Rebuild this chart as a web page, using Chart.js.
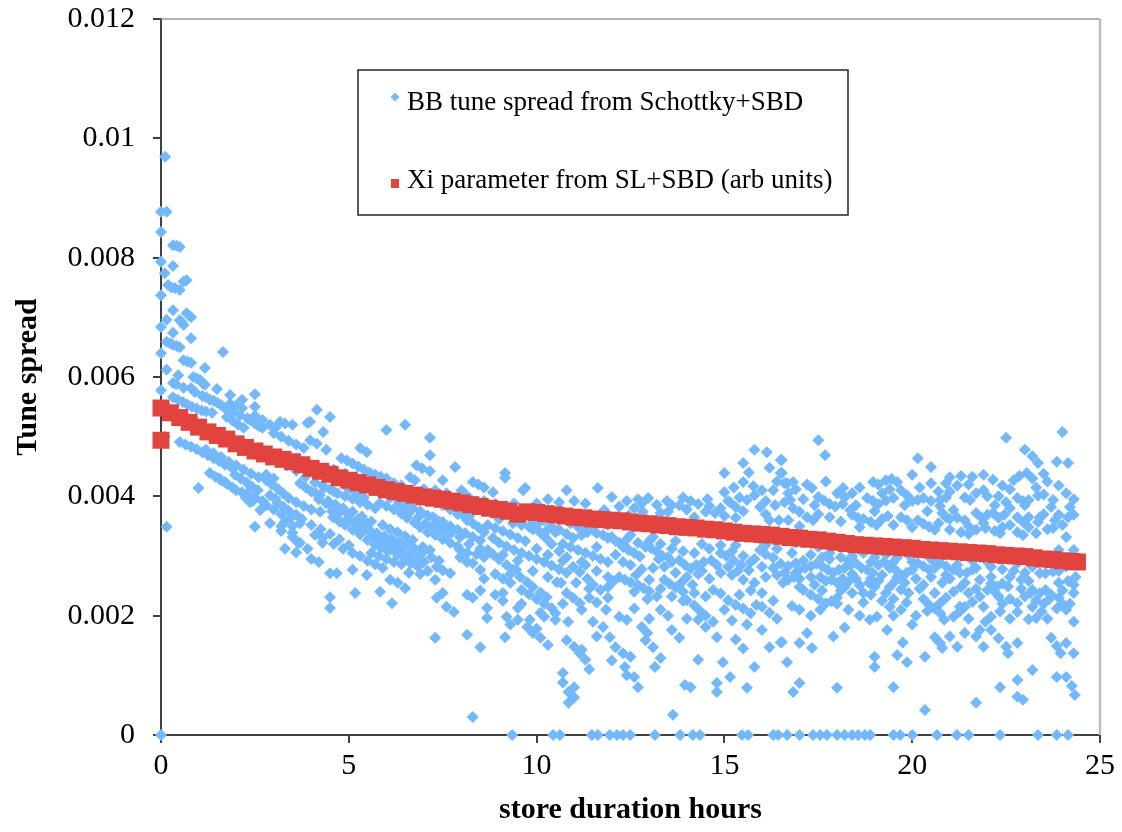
<!DOCTYPE html>
<html>
<head>
<meta charset="utf-8">
<script src="https://cdn.jsdelivr.net/npm/chart.js@4/dist/chart.umd.min.js"></script>
<style>
  html, body { margin: 0; padding: 0; background: #ffffff; }
  #wrap { width: 1122px; height: 832px; }
</style>
</head>
<body>
<div id="wrap"><canvas id="c" width="1122" height="832"></canvas></div>
<script>
// ---------- DATA ----------
const seriesNames = ['BB tune spread from Schottky+SBD', 'Xi parameter from SL+SBD (arb units)'];
const xTickLabels = ['0', '5', '10', '15', '20', '25'];
const yTickLabels = ['0', '0.002', '0.004', '0.006', '0.008', '0.01', '0.012'];
const axisTitles = ['store duration hours', 'Tune spread'];

// Xi parameter (red squares)
const xiHours = [0, 0, 0.25, 0.5, 0.75, 1, 1.25, 1.5, 1.75, 2, 2.25, 2.5, 2.75, 3, 3.25, 3.5, 3.75, 4, 4.25, 4.5, 4.75,
  5, 5.25, 5.5, 5.75, 6, 6.25, 6.5, 6.75, 7, 7.25, 7.5, 7.75, 8, 8.25, 8.5, 8.75, 9, 9.25, 9.5, 9.75,
  10, 10.25, 10.5, 10.75, 11, 11.25, 11.5, 11.75, 12, 12.25, 12.5, 12.75, 13, 13.25, 13.5, 13.75, 14, 14.25, 14.5, 14.75,
  15, 15.25, 15.5, 15.75, 16, 16.25, 16.5, 16.75, 17, 17.25, 17.5, 17.75, 18, 18.25, 18.5, 18.75, 19, 19.25, 19.5, 19.75,
  20, 20.25, 20.5, 20.75, 21, 21.25, 21.5, 21.75, 22, 22.25, 22.5, 22.75, 23, 23.25, 23.5, 23.75, 24, 24.25, 24.4];
const xiValues = [0.00548, 0.00494, 0.0054, 0.00532, 0.00524, 0.00516, 0.00508, 0.00502, 0.00496, 0.00488, 0.00482, 0.00476, 0.00471, 0.00466, 0.00462, 0.00458, 0.00453, 0.00447, 0.00442, 0.00437, 0.00431,
  0.00427, 0.00423, 0.00419, 0.00415, 0.00411, 0.00408, 0.00405, 0.00402, 0.00399, 0.00397, 0.00395, 0.00392, 0.00389, 0.00386, 0.00383, 0.0038, 0.00378, 0.00375, 0.0037, 0.00374,
  0.00373, 0.00371, 0.00369, 0.00367, 0.00365, 0.00364, 0.00362, 0.00361, 0.0036, 0.00359, 0.00357, 0.00355, 0.00354, 0.00352, 0.00351, 0.00349, 0.00348, 0.00347, 0.00345, 0.00344,
  0.00342, 0.0034, 0.00338, 0.00337, 0.00336, 0.00335, 0.00333, 0.00331, 0.0033, 0.00328, 0.00327, 0.00325, 0.00323, 0.00321, 0.00319, 0.00318, 0.00317, 0.00316, 0.00315, 0.00314,
  0.00313, 0.00311, 0.0031, 0.00309, 0.00308, 0.00307, 0.00306, 0.00305, 0.00304, 0.00302, 0.00301, 0.003, 0.00299, 0.00297, 0.00295, 0.00294, 0.00292, 0.00291, 0.0029];

// BB tune spread (blue diamonds), [hours, spread]
const bbHours0to4 = [[0.11,0.00969],[0,0.00877],[0.15,0.00877],[0,0.00843],[0.32,0.00821],[0.42,0.0082],[0.5,0.00818],[0,0.00793],[0.32,0.00786],[0.1,0.00774],[0.19,0.00754],[0.28,0.0075],[0.37,0.00749],[0.5,0.00746],[0.6,0.0076],[0.68,0.00762],[0,0.00737],[0.32,0.00712],[0.68,0.00707],[0.75,0.00703],[0.8,0.007],[0.15,0.00696],[0,0.00684],[0.5,0.00695],[0.55,0.00692],[0.6,0.00687],[0.32,0.00674],[0.8,0.00665],[0.15,0.00659],[0.25,0.00656],[0.32,0.00654],[0.42,0.00652],[0.5,0.0065],[0,0.0064],[1.65,0.00642],[0.6,0.00628],[0.7,0.00626],[0.8,0.00624],[1.17,0.00615],[0.15,0.00612],[0.46,0.00603],[0.86,0.006],[0.95,0.00598],[1.04,0.00595],[1.1,0.0059],[1.17,0.00587],[0.32,0.0059],[1.49,0.0058],[1.84,0.0057],[2.5,0.00571],[0,0.00578],[0.8,0.00581],[0.32,0.00566],[0.45,0.00562],[0.58,0.00558],[0.7,0.00554],[0.82,0.0055],[0.95,0.00547],[1.08,0.00544],[1.2,0.00542],[1.36,0.0054],[1.2,0.00566],[1.4,0.0056],[1.6,0.00553],[1.84,0.00555],[2.0,0.00552],[2.16,0.00548],[2.16,0.00562],[2.5,0.0055],[1.75,0.00533],[1.9,0.00527],[2.05,0.0052],[2.2,0.00515],[2.37,0.00528],[2.5,0.00522],[2.6,0.00518],[2.7,0.00515],[3.17,0.00525],[3.3,0.00522],[3.5,0.0052],[3.9,0.00523],[3.0,0.00506],[3.2,0.005],[3.4,0.00493],[3.6,0.00487],[3.8,0.00481],[0.1,0.005],[0.5,0.00491],[0.65,0.00487],[0.8,0.00483],[0.95,0.00479],[1.1,0.00474],[1.25,0.00469],[1.4,0.00464],[1.55,0.00459],[1.7,0.00453],[1.9,0.00447],[1.3,0.00439],[1.45,0.00433],[1.6,0.00427],[1.75,0.00421],[1.9,0.00415],[2.0,0.0041],[2.15,0.00407],[1.0,0.00414],[1.97,0.00436],[2.12,0.0043],[2.28,0.00423],[2.43,0.00416],[2.58,0.0041],[2.8,0.00427],[2.95,0.0042],[3.1,0.00413],[3.25,0.00405],[3.4,0.00397],[3.6,0.0039],[2.37,0.0039],[2.64,0.00377],[2.5,0.00349],[0.15,0.00349],[3.1,0.00389],[3.25,0.00383],[3.4,0.00376],[3.6,0.00369],[3.5,0.00339],[3.1,0.0046],[3.35,0.00452],[3.6,0.00443],[3.85,0.00433],[2.8,0.00385],[3.0,0.00378],[3.2,0.0037],[3.45,0.00364],[3.65,0.00322],[3.5,0.00332],
  [0.4,0.00588],[0.6,0.00582],[0.9,0.00575],[1.1,0.00568],[1.3,0.00562],[1.5,0.00557],[1.7,0.00548],[1.9,0.00542],[2.1,0.00536],[2.3,0.00531],[2.5,0.00535],[2.7,0.00528],[2.9,0.0052],[3.05,0.00515],[1.2,0.00478],[1.4,0.00472],[1.6,0.00466],[1.8,0.00458],[2.0,0.00452],[2.2,0.00445],[2.4,0.00438],[2.6,0.00432],[2.8,0.00436],[3.0,0.0043],[1.55,0.0043],[1.7,0.00424],[2.3,0.00405],[2.5,0.00398],[2.7,0.00392],[2.9,0.00402],[3.05,0.00396],[2.25,0.00398],[2.45,0.00392],[3.3,0.00358],[3.5,0.0035],[3.2,0.0035],[2.9,0.00355],[3.2,0.00342],[3.3,0.00312],[3.6,0.00306],[3.9,0.00312],[4.0,0.00295],[4.2,0.0029]];

const bbHours4to8 = [[4.1,0.00423],[4.35,0.00415],[4.6,0.00408],[4.9,0.004],[3.8,0.00384],[4.0,0.00378],[4.24,0.00374],[3.75,0.00362],[4.0,0.00352],[4.25,0.00345],[4.5,0.00337],[4.75,0.00328],[5.0,0.00318],[4.15,0.00545],[4.5,0.00533],[3.97,0.00525],[4.32,0.00508],[6.0,0.00511],[6.5,0.0052],[7.16,0.00498],[3.97,0.00494],[4.15,0.00488],[4.4,0.00478],[5.3,0.00481],[5.48,0.00474],[7.16,0.00469],[4.8,0.00464],[4.95,0.0046],[5.1,0.00455],[5.25,0.0045],[5.4,0.00445],[5.55,0.0044],[5.7,0.00436],[5.85,0.00433],[6.0,0.0043],[6.8,0.00452],[6.95,0.00447],[7.16,0.00442],[7.83,0.00449],[6.63,0.00432],[6.76,0.00427],[7.5,0.00427],[8.0,0.0041],[3.7,0.00422],[3.85,0.00415],[4.0,0.00408],[4.12,0.00405],[4.23,0.00402],[5.0,0.00412],[5.2,0.00405],[5.4,0.00398],[4.58,0.00382],[4.8,0.00376],[5.0,0.0037],[5.25,0.00362],[5.48,0.00355],[4.58,0.00365],[4.75,0.00358],[4.9,0.00352],[5.1,0.00344],[5.3,0.00336],[5.5,0.00327],[5.7,0.00319],[5.85,0.00314],[6.0,0.0031],[5.3,0.00352],[5.45,0.00345],[5.6,0.00338],[5.8,0.0033],[6.0,0.00322],[6.2,0.00314],[6.4,0.00307],[5.83,0.00389],[6.0,0.00384],[6.2,0.00378],[6.4,0.00371],[6.55,0.00364],[6.75,0.00356],[6.9,0.00348],[7.1,0.0034],[6.3,0.00394],[6.45,0.0039],[6.63,0.00385],[7.24,0.00365],[7.4,0.00358],[7.55,0.0035],[7.75,0.0034],[7.96,0.00332],[6.1,0.0031],[6.3,0.00302],[6.5,0.00295],[6.65,0.00288],[6.84,0.00282],[6.97,0.00315],[7.16,0.0031],[3.7,0.00355],[3.7,0.00322],[4.3,0.00322],[4.5,0.00271],[4.68,0.00271],[5.1,0.00277],[5.48,0.00268],[6.1,0.0026],[6.3,0.00255],[6.5,0.00246],[7.34,0.00282],[7.5,0.00276],[7.7,0.00271],[7.96,0.00298],[8.15,0.0029],[4.5,0.00231],[4.5,0.00213],[5.17,0.00238],[5.83,0.0024],[6.15,0.00221],[7.34,0.0023],[7.5,0.00238],[7.6,0.00215],[7.8,0.00206],[7.3,0.00163],
  [4.3,0.00418],[4.5,0.00412],[4.7,0.00405],[5.1,0.00396],[5.3,0.0039],[5.5,0.00386],[5.7,0.0038],[4.45,0.00392],[4.65,0.00386],[4.85,0.0038],[5.1,0.00374],[5.35,0.00366],[5.6,0.00358],[5.9,0.00352],[6.1,0.00345],[6.3,0.0034],[6.5,0.00333],[6.7,0.00327],[5.2,0.00348],[5.65,0.00333],[5.9,0.00325],[6.1,0.00318],[6.6,0.00302],[6.8,0.00296],[7.0,0.0029],[7.2,0.00298],[7.4,0.00292],[6.7,0.0038],[6.9,0.00375],[7.1,0.00368],[7.3,0.00362],[7.5,0.00357],[7.7,0.0035],[7.9,0.00344],[8.1,0.00338],[8.3,0.00332],[8.5,0.00326],[7.3,0.00335],[7.5,0.00328],[7.7,0.00322],[7.9,0.00316],[8.4,0.00303],[8.6,0.00298],[5.6,0.00305],[5.8,0.003],[6.0,0.00295],[6.2,0.0029],[6.4,0.00286],[4.6,0.00445],[4.9,0.00438],[5.2,0.00432],[5.6,0.00425],[5.9,0.00418],[6.2,0.00422],[6.4,0.00418],[7.0,0.00412],[7.3,0.0041],[7.6,0.00405],[8.2,0.00398],
  [4.2,0.00395],[4.4,0.00388],[4.55,0.00375],[4.7,0.0037],[4.95,0.00362],[5.15,0.00356],[5.4,0.0035],[5.55,0.00344],[5.75,0.00338],[5.95,0.00333],[6.15,0.00328],[6.35,0.00322],[6.55,0.00318],[6.75,0.00312],[6.95,0.00305],[6.1,0.00398],[6.3,0.00385],[6.5,0.0038],[6.6,0.00372],[6.85,0.00365],[7.05,0.00355],[7.25,0.0035],[7.45,0.00345],[7.65,0.00338],[7.1,0.00395],[7.3,0.0039],[7.5,0.00385],[7.7,0.00378],[7.9,0.0037],[8.1,0.00365],[4.1,0.00335],[4.3,0.0033],[4.6,0.0032],[4.85,0.00312],[5.1,0.00305],[5.3,0.003],[5.5,0.00292],[5.7,0.00286],[5.9,0.0028],[6.6,0.00272],[6.9,0.0027],[7.1,0.00275],[7.3,0.0026]];

const bbHours8to12 = [[8.3,0.00424],[8.45,0.0042],[8.6,0.00415],[8.84,0.00407],[9.16,0.00439],[9.16,0.00431],[9.64,0.0041],[9.7,0.00414],[10.8,0.0041],[11.63,0.00414],[12.0,0.00399],[11.8,0.00377],[8.04,0.00407],[8.15,0.0036],[8.3,0.00355],[8.45,0.00348],[8.6,0.0034],[8.84,0.0033],[9.37,0.00355],[9.6,0.00352],[9.8,0.00349],[10.2,0.0036],[10.4,0.00349],[10.6,0.00344],[10.8,0.00337],[10.97,0.0033],[11.5,0.00344],[11.77,0.00335],[12.2,0.00322],[12.4,0.00313],[7.96,0.0031],[8.15,0.00305],[8.7,0.0031],[8.85,0.00302],[9.0,0.00294],[9.2,0.00285],[9.37,0.00277],[9.56,0.00265],[9.75,0.00256],[9.9,0.00248],[10.1,0.00239],[10.27,0.00231],[10.1,0.00339],[10.25,0.0033],[10.4,0.0032],[10.6,0.00308],[10.8,0.00298],[10.97,0.00282],[11.15,0.00273],[11.35,0.00262],[11.5,0.00252],[11.7,0.00243],[8.3,0.00288],[8.5,0.00277],[9.45,0.00277],[10.54,0.00256],[10.8,0.00238],[10.97,0.0023],[11.15,0.00221],[8.15,0.00235],[8.3,0.0023],[8.9,0.00235],[9.1,0.00238],[8.68,0.00213],[8.68,0.00196],[9.5,0.00213],[9.5,0.00193],[9.82,0.00193],[10.0,0.00178],[10.1,0.00163],[10.3,0.00151],[10.5,0.00204],[10.5,0.00193],[10.84,0.0019],[8.15,0.00168],[8.5,0.00147],[9.16,0.00164],[9.75,0.00181],[9.9,0.00171],[10.8,0.00159],[11.0,0.00148],[11.15,0.00137],[11.3,0.00126],[11.2,0.00143],[11.77,0.00181],[11.95,0.00164],[12.1,0.00147],[10.7,0.00104],[10.7,0.00088],[10.85,0.00072],[11.0,0.00063],[10.85,0.00054],[8.3,0.0003],[9.9,0.00345],[10.05,0.00355],[11.2,0.00335],[11.35,0.0034],[12.0,0.00332],
  [8.6,0.00392],[8.9,0.00387],[9.2,0.00384],[8.0,0.00372],[8.2,0.00367],[8.7,0.00352],[8.9,0.00347],[9.1,0.00342],[9.3,0.00336],[9.5,0.0033],[9.7,0.00325],[9.0,0.00322],[9.2,0.00316],[9.4,0.0031],[9.6,0.00305],[9.8,0.003],[10.0,0.00295],[10.2,0.0029],[10.4,0.00284],[10.6,0.00278],[10.8,0.00272],[10.3,0.00345],[10.5,0.0034],[10.7,0.0032],[10.9,0.00315],[11.1,0.0031],[11.3,0.00305],[11.5,0.003],[11.7,0.00295],[11.9,0.0029],[11.1,0.00349],[11.3,0.00345],[11.6,0.00338],[11.9,0.0033],[12.1,0.00325],[9.1,0.00262],[9.3,0.00255],[9.6,0.00243],[9.8,0.00236],[10.0,0.00228],[10.2,0.0022],[10.4,0.00213],[11.3,0.00285],[11.6,0.00275],[11.9,0.00265],[12.05,0.00258],[11.4,0.0023],[11.6,0.00222],[11.85,0.0021],[9.2,0.00198],[9.3,0.00185],[10.2,0.00198],[11.5,0.0019],[11.6,0.00165],[12.0,0.00125],[11.4,0.0011],[11.0,0.0008],[9.4,0.00388],[10.0,0.00388],[10.3,0.00395],[10.6,0.0039],[11.0,0.00392],[11.3,0.00388],[12.2,0.00383],[12.4,0.00392],
  [8.4,0.00382],[8.8,0.00372],[9.0,0.00362],[9.6,0.00368],[9.9,0.0036],[10.4,0.00368],[10.9,0.00355],[11.5,0.00358],[11.9,0.00352],[8.2,0.0032],[8.5,0.00312],[9.1,0.00302],[9.5,0.00292],[10.0,0.00312],[10.3,0.00302],[10.7,0.00292],[11.2,0.0029],[11.6,0.00315],[12.1,0.00302],[8.6,0.00262],[8.9,0.0027],[9.3,0.0027],[9.9,0.00275],[10.3,0.00265],[10.65,0.00255],[11.05,0.00255],[11.4,0.00245],[11.9,0.00248],[8.5,0.00242],[9.1,0.00225],[9.6,0.0022],[10.1,0.00205],[10.7,0.0022],[11.2,0.0021],[11.9,0.0023]];

const bbHours12to16 = [[12.97,0.00397],[13.47,0.00392],[13.8,0.00385],[14.1,0.00392],[14.3,0.00387],[12.83,0.00374],[13.5,0.00374],[14.5,0.00374],[14.75,0.00372],[15.0,0.00367],[15.3,0.00364],[15.8,0.00478],[16.13,0.00474],[15.5,0.00456],[16.5,0.00461],[15.0,0.00439],[15.5,0.00424],[15.77,0.00417],[16.0,0.0041],[16.5,0.00439],[16.6,0.00422],[15.0,0.00407],[15.15,0.0039],[15.6,0.00394],[15.95,0.00382],[16.3,0.0041],[16.2,0.0036],[16.45,0.0036],[12.3,0.00315],[12.45,0.0031],[12.6,0.00305],[12.75,0.00299],[12.9,0.00315],[13.05,0.00313],[13.2,0.00307],[13.35,0.003],[13.5,0.00298],[13.8,0.00293],[13.95,0.00285],[14.1,0.00279],[14.25,0.00285],[14.45,0.0029],[14.65,0.00293],[14.9,0.00305],[15.05,0.003],[15.25,0.00292],[15.45,0.00285],[15.65,0.00276],[15.95,0.0031],[16.1,0.00303],[16.3,0.00297],[16.5,0.00287],[12.2,0.00265],[12.35,0.0026],[12.5,0.00256],[12.7,0.00251],[12.85,0.00246],[13.0,0.00241],[13.2,0.00232],[13.4,0.0026],[13.55,0.00253],[13.7,0.00247],[13.9,0.0024],[14.0,0.00226],[14.2,0.00217],[14.35,0.00208],[14.5,0.002],[14.7,0.0019],[14.7,0.00243],[14.9,0.00237],[15.1,0.00226],[15.3,0.00218],[15.5,0.00212],[15.7,0.00204],[15.85,0.00218],[16.0,0.00215],[16.2,0.00205],[12.2,0.00198],[12.4,0.00193],[12.8,0.00181],[12.95,0.00171],[12.9,0.00159],[13.1,0.00147],[13.6,0.00176],[13.8,0.00163],[14.3,0.00193],[14.5,0.00181],[14.8,0.00164],[12.3,0.00137],[12.35,0.00114],[12.4,0.001],[12.5,0.00131],[12.6,0.00097],[12.7,0.0008],[13.15,0.00114],[13.3,0.00129],[13.95,0.00084],[14.1,0.0008],[14.3,0.00126],[14.8,0.00087],[14.8,0.00072],[14.96,0.00122],[15.15,0.00097],[15.6,0.00079],[15.8,0.00114],[16.0,0.00176],[16.2,0.00147],[16.5,0.00155],[13.63,0.00034],[12.5,0.00335],[13.1,0.00332],[13.7,0.00325],[14.4,0.0032],[15.3,0.00318],[16.0,0.00325],
  [12.6,0.0038],[12.8,0.00388],[13.2,0.00386],[13.6,0.00385],[14.0,0.00378],[14.6,0.00384],[14.9,0.0038],[15.3,0.00382],[15.4,0.00398],[15.8,0.00402],[16.1,0.00392],[16.35,0.00385],[15.25,0.00415],[15.65,0.0044],[16.2,0.00448],[16.4,0.00425],[12.4,0.00328],[12.7,0.00322],[13.0,0.00325],[13.3,0.0032],[13.6,0.00312],[13.9,0.00308],[14.2,0.00305],[14.6,0.00312],[14.9,0.00318],[15.2,0.00308],[15.5,0.003],[15.8,0.00295],[16.1,0.00318],[16.4,0.00312],[12.5,0.00285],[12.8,0.00278],[13.1,0.0028],[13.4,0.00282],[13.7,0.00272],[14.0,0.00265],[14.3,0.0027],[14.6,0.00262],[14.9,0.00272],[15.2,0.00268],[15.5,0.0026],[15.8,0.00255],[16.1,0.00265],[16.4,0.00268],[12.6,0.0024],[12.95,0.00228],[13.3,0.00245],[13.6,0.00232],[13.9,0.00225],[14.2,0.00238],[14.5,0.00232],[15.0,0.0021],[15.4,0.00235],[15.7,0.00242],[16.0,0.00238],[16.3,0.00225],[13.3,0.0021],[13.5,0.002],[14.0,0.00195],[15.2,0.00192],[15.6,0.00185],[16.4,0.00195],[13.0,0.00195],[12.6,0.00212],[15.3,0.0016],[15.5,0.00145],
  [12.3,0.0029],[12.65,0.00268],[13.0,0.0026],[13.25,0.00295],[13.6,0.0029],[13.85,0.00255],[14.15,0.00252],[14.4,0.00275],[14.8,0.00285],[15.1,0.00282],[15.35,0.00275],[15.7,0.0029],[16.0,0.00282],[16.3,0.0028],[16.6,0.00272],[12.45,0.00368],[12.7,0.00395],[13.3,0.00372],[13.9,0.00398],[14.2,0.00365],[14.55,0.00395],[15.1,0.00392],[15.5,0.00375],[16.1,0.0037],[16.6,0.0039]];

const bbHours16to21 = [[17.5,0.00494],[17.68,0.00469],[16.53,0.00461],[16.53,0.00439],[20.15,0.00464],[20.5,0.00449],[20.0,0.00436],[20.5,0.00422],[20.9,0.00422],[16.67,0.00422],[16.83,0.00424],[17.33,0.00414],[18.16,0.00414],[18.96,0.00424],[19.1,0.0042],[19.3,0.00427],[19.45,0.00429],[19.6,0.00424],[16.7,0.00405],[16.75,0.00394],[17.5,0.00399],[17.65,0.00393],[17.8,0.00387],[17.95,0.00383],[18.15,0.00387],[18.35,0.00377],[18.8,0.00397],[18.95,0.00392],[19.1,0.00387],[19.3,0.00393],[19.5,0.00397],[19.86,0.00402],[20.0,0.00392],[20.15,0.00394],[20.3,0.00397],[20.5,0.00392],[20.74,0.00384],[16.83,0.0038],[17.0,0.00374],[17.2,0.00365],[17.36,0.0036],[18.4,0.00369],[18.55,0.00364],[18.7,0.00362],[18.9,0.00357],[19.05,0.00352],[19.2,0.00362],[19.35,0.00367],[19.7,0.00365],[19.86,0.0036],[20.15,0.0036],[20.3,0.00354],[20.45,0.00349],[20.6,0.00344],[20.9,0.00365],[16.8,0.00305],[16.9,0.00288],[16.7,0.00283],[17.0,0.00277],[17.15,0.0028],[17.3,0.00283],[17.45,0.00287],[17.6,0.00283],[17.75,0.00277],[17.9,0.00272],[18.05,0.00277],[18.2,0.0028],[18.35,0.00285],[18.5,0.00288],[18.65,0.0028],[18.8,0.00277],[18.95,0.00272],[19.1,0.00285],[19.25,0.0029],[19.4,0.0028],[19.55,0.00277],[19.7,0.00268],[19.85,0.00272],[20.0,0.00277],[20.15,0.00288],[20.3,0.00283],[20.45,0.00277],[20.6,0.0028],[16.56,0.00255],[16.7,0.0026],[16.85,0.00265],[17.0,0.00248],[17.1,0.00243],[17.55,0.00265],[17.7,0.00258],[17.85,0.0026],[18.0,0.00255],[18.15,0.00262],[18.3,0.00257],[18.6,0.00251],[18.7,0.00238],[18.85,0.00255],[19.0,0.00248],[19.3,0.00238],[19.4,0.00248],[19.55,0.00258],[19.7,0.00244],[19.85,0.00222],[20.3,0.00228],[20.45,0.00218],[20.6,0.00212],[20.75,0.00204],[16.8,0.00216],[17.55,0.0021],[17.7,0.00221],[17.85,0.00224],[18.87,0.00193],[19.06,0.00198],[19.33,0.00176],[17.2,0.00171],[17.0,0.00154],[17.33,0.00146],[16.53,0.00156],[16.67,0.00122],[19.0,0.00131],[19.0,0.00114],[19.6,0.00134],[19.75,0.00155],[19.86,0.00122],[20.34,0.00131],[20.6,0.00164],[20.8,0.00146],[16.83,0.00072],[17.0,0.00087],[18.0,0.00079],[19.5,0.0008],[20.34,0.00042],[17.3,0.00302],[18.4,0.003],[19.6,0.00298],[20.5,0.00295],
  [16.9,0.00412],[17.2,0.0042],[17.7,0.00425],[18.0,0.00405],[18.4,0.00405],[18.6,0.00415],[19.2,0.00405],[19.7,0.0041],[20.2,0.00415],[20.7,0.00408],[20.9,0.00398],[17.5,0.0037],[17.8,0.00365],[18.1,0.00358],[18.6,0.00348],[19.5,0.00352],[20.0,0.00348],[20.7,0.00355],[17.0,0.0035],[16.7,0.0036],[16.9,0.00322],[17.5,0.00315],[17.8,0.00305],[18.1,0.00298],[18.7,0.00305],[19.0,0.00298],[19.3,0.00302],[19.9,0.00302],[20.3,0.00305],[20.8,0.003],[16.9,0.00272],[17.3,0.00265],[17.8,0.00295],[18.4,0.0027],[18.9,0.00262],[19.2,0.00268],[19.6,0.00265],[20.1,0.00262],[20.5,0.00265],[20.9,0.00268],[17.3,0.00235],[17.6,0.00242],[18.1,0.00242],[18.4,0.00238],[18.9,0.00235],[19.2,0.00225],[19.5,0.00228],[19.9,0.00238],[20.2,0.00245],[20.6,0.00238],[20.9,0.0023],[17.0,0.0021],[17.3,0.002],[18.0,0.0022],[18.3,0.0021],[18.6,0.002],[19.5,0.002],[20.1,0.002],[20.0,0.00185],[18.2,0.0018],[17.9,0.00165],
  [17.1,0.00395],[17.4,0.00385],[18.2,0.00398],[18.5,0.00385],[19.0,0.00375],[19.4,0.00412],[19.8,0.00385],[20.4,0.00375],[20.8,0.00372],[17.1,0.00292],[17.6,0.00298],[18.3,0.00292],[18.9,0.0029],[19.5,0.0029],[20.0,0.0029],[20.6,0.0029],[17.0,0.00262],[17.4,0.00252],[18.2,0.00248],[18.5,0.00262],[19.1,0.00258],[19.8,0.00255],[20.3,0.00252],[20.8,0.00255],[17.5,0.00228],[18.0,0.0023],[18.7,0.00222],[19.4,0.00215],[19.7,0.0021],[20.4,0.00208]];

const bbHours21to25 = [[24.0,0.00508],[22.5,0.00498],[23.0,0.00478],[23.2,0.00467],[23.35,0.00456],[23.85,0.00458],[24.15,0.00456],[21.0,0.00432],[21.3,0.00434],[21.6,0.00433],[21.9,0.00436],[22.15,0.00428],[22.7,0.00427],[22.85,0.00434],[23.05,0.00439],[23.3,0.00415],[21.9,0.0041],[22.0,0.004],[22.3,0.004],[22.5,0.0039],[22.8,0.00397],[22.95,0.00392],[23.1,0.00394],[23.35,0.00401],[23.5,0.00403],[23.75,0.00394],[20.74,0.00394],[21.1,0.00377],[21.2,0.00364],[21.54,0.00394],[21.7,0.00372],[21.85,0.00364],[22.0,0.00369],[22.15,0.00372],[22.3,0.00364],[22.45,0.00369],[22.8,0.00365],[22.95,0.00357],[23.1,0.00365],[23.35,0.00357],[23.9,0.00369],[24.15,0.00365],[24.3,0.00369],[21.0,0.00344],[21.3,0.0034],[21.5,0.00337],[21.7,0.00344],[21.95,0.00347],[22.2,0.00342],[22.34,0.00338],[22.8,0.0034],[22.95,0.00335],[23.6,0.00345],[23.75,0.00347],[24.1,0.00332],[20.74,0.00288],[20.9,0.00283],[21.1,0.00277],[21.27,0.00272],[21.45,0.00272],[21.6,0.00277],[22.1,0.00282],[22.1,0.00265],[22.1,0.00254],[22.0,0.00243],[22.25,0.00249],[22.4,0.00254],[22.55,0.00249],[23.4,0.00271],[23.55,0.00271],[23.75,0.00274],[23.2,0.00243],[23.4,0.00238],[23.55,0.00243],[23.7,0.00235],[23.3,0.00226],[23.65,0.00228],[24.1,0.00282],[24.15,0.00258],[24.3,0.00238],[20.74,0.00221],[20.85,0.00193],[21.27,0.00215],[21.27,0.00207],[21.6,0.00223],[21.8,0.00176],[21.95,0.0019],[22.34,0.00207],[22.8,0.00221],[22.8,0.00206],[23.1,0.00194],[23.3,0.00196],[23.45,0.00207],[23.85,0.00212],[24.3,0.0019],[20.74,0.00154],[21.0,0.00165],[21.2,0.00148],[21.4,0.00171],[21.7,0.00165],[21.9,0.00148],[22.1,0.00176],[22.3,0.00162],[22.5,0.00148],[22.55,0.00137],[22.8,0.00154],[23.7,0.00163],[23.85,0.00149],[23.95,0.00137],[24.1,0.00154],[24.3,0.00137],[22.34,0.0008],[22.8,0.00092],[23.2,0.00109],[22.8,0.00064],[22.95,0.00059],[23.85,0.00097],[24.1,0.00097],[24.25,0.00082],[24.33,0.00067],[21.7,0.00054],[21.0,0.00305],[21.8,0.00298],[22.6,0.003],[23.0,0.00305],[23.9,0.0031],[24.3,0.0031],
  [21.2,0.00418],[21.5,0.0042],[22.4,0.00418],[22.6,0.00412],[23.6,0.00425],[23.9,0.00418],[24.1,0.00405],[24.3,0.00395],[23.2,0.0043],[23.5,0.00438],[21.4,0.0036],[21.0,0.00362],[22.6,0.00352],[23.5,0.0037],[24.0,0.00352],[23.3,0.00338],[21.3,0.003],[21.6,0.00292],[22.0,0.0029],[22.3,0.00295],[22.8,0.00288],[23.2,0.00282],[23.6,0.0029],[24.0,0.00295],[24.35,0.00285],[21.0,0.00262],[21.4,0.00255],[21.8,0.0026],[22.6,0.00265],[22.9,0.0026],[23.1,0.00258],[23.9,0.00255],[24.35,0.00265],[21.1,0.0024],[21.5,0.00238],[21.8,0.00232],[22.3,0.00232],[22.6,0.00228],[23.0,0.00232],[23.9,0.0023],[24.2,0.0022],[21.1,0.00198],[21.5,0.00195],[22.1,0.00198],[22.6,0.00195],[23.6,0.00195],[24.1,0.0021],
  [21.0,0.00408],[21.4,0.00398],[21.7,0.00405],[22.2,0.00385],[22.6,0.0038],[23.0,0.00385],[23.7,0.00382],[24.2,0.00382],[21.5,0.0035],[21.9,0.00355],[22.4,0.00348],[23.1,0.00348],[23.4,0.00365],[23.8,0.0036],[21.2,0.00285],[21.7,0.0028],[22.4,0.00278],[22.7,0.00275],[23.0,0.00272],[23.3,0.0029],[23.9,0.00275],[24.25,0.00298],[21.3,0.00248],[21.7,0.00245],[22.2,0.0024],[22.9,0.00245],[23.15,0.00238],[24.0,0.00242],[24.3,0.00252],[21.4,0.00215],[21.9,0.00215],[22.4,0.0022],[23.2,0.00215],[23.5,0.0022],[24.0,0.0022]];

// hours at which the BB tune spread reads exactly 0
const bbZeroHours = [0, 9.35, 10.44, 10.62, 11.47, 11.63, 11.95, 12.14, 12.3, 12.49, 13.15, 13.82, 14.16, 14.35, 15.47, 15.63, 16.3, 16.43, 16.67, 17.0, 17.36, 17.55, 17.73, 18.0, 18.2, 18.4, 18.56, 18.74, 18.88, 19.5, 19.68, 20.0, 20.66, 21.19, 21.5, 22.34, 23.35, 23.85, 24.15];

// ---------- BUILD ----------
const bbPoints = [].concat(bbHours0to4, bbHours4to8, bbHours8to12, bbHours12to16, bbHours16to21, bbHours21to25)
  .map(p => ({ x: p[0], y: p[1] }))
  .concat(bbZeroHours.map(h => ({ x: h, y: 0 })));
const xiPoints = xiHours.map((h, i) => ({ x: h, y: xiValues[i] }));

const BLUE = '#74b8fc';
const RED = '#e1433f';
const SERIF = '"Liberation Serif", "Times New Roman", Times, serif';
const AXIS = '#404040';

const framePlugin = {
  id: 'frame',
  beforeDatasetsDraw(chart) {
    const { ctx, chartArea: a } = chart;
    ctx.save();
    ctx.strokeStyle = '#9a9a9a';
    ctx.lineWidth = 1.5;
    ctx.beginPath();
    ctx.moveTo(a.left, a.top);
    ctx.lineTo(a.right, a.top);
    ctx.stroke();
    ctx.strokeStyle = '#bdbdbd';
    ctx.lineWidth = 2.5;
    ctx.beginPath();
    ctx.moveTo(a.right, a.top);
    ctx.lineTo(a.right, a.bottom);
    ctx.stroke();
    ctx.restore();
  }
};

const boxLegendPlugin = {
  id: 'boxLegend',
  afterDraw(chart) {
    const { ctx, chartArea: a } = chart;
    const left = a.left + 197, top = a.top + 51, w = 490, h = 145;
    ctx.save();
    ctx.fillStyle = '#ffffff';
    ctx.fillRect(left, top, w, h);
    ctx.strokeStyle = '#262626';
    ctx.lineWidth = 1.5;
    ctx.strokeRect(left, top, w, h);
    const ds = chart.data.datasets;
    const blueSet = ds.find(d => d.label === seriesNames[0]);
    const redSet = ds.find(d => d.label === seriesNames[1]);
    // blue diamond marker
    ctx.fillStyle = blueSet.backgroundColor;
    ctx.beginPath();
    const bx = left + 37, by = top + 27;
    ctx.moveTo(bx, by - 4.5); ctx.lineTo(bx + 4.5, by); ctx.lineTo(bx, by + 4.5); ctx.lineTo(bx - 4.5, by);
    ctx.closePath(); ctx.fill();
    // red square marker
    ctx.fillStyle = redSet.backgroundColor;
    ctx.fillRect(left + 33, top + 109, 8, 9);
    // texts
    ctx.fillStyle = '#000000';
    ctx.font = '27px ' + SERIF;
    ctx.textBaseline = 'alphabetic';
    ctx.textAlign = 'left';
    ctx.fillText(blueSet.label, left + 49, top + 40);
    ctx.fillText(redSet.label, left + 49, top + 118);
    ctx.restore();
  }
};

new Chart(document.getElementById('c'), {
  type: 'scatter',
  data: {
    datasets: [
      {
        label: seriesNames[1],
        data: xiPoints,
        pointStyle: 'rect',
        pointRadius: 12,
        pointHoverRadius: 12,
        backgroundColor: RED,
        borderColor: RED,
        borderWidth: 0,
        clip: false,
        order: 0
      },
      {
        label: seriesNames[0],
        data: bbPoints,
        pointStyle: 'rectRot',
        pointRadius: 6,
        pointHoverRadius: 6,
        backgroundColor: BLUE,
        borderColor: BLUE,
        borderWidth: 0,
        clip: false,
        order: 1
      }
    ]
  },
  options: {
    responsive: false,
    animation: false,
    events: [],
    layout: { padding: { top: 19, right: 22, left: 0, bottom: 0 } },
    plugins: {
      legend: { display: false },
      tooltip: { enabled: false }
    },
    scales: {
      x: {
        type: 'linear',
        min: 0, max: 25,
        afterFit(scale) { scale.height = 97; scale.paddingLeft = 0; scale.paddingRight = 0; },
        ticks: {
          stepSize: 5,
          padding: 5,
          color: '#000',
          font: { family: SERIF, size: 30 },
          callback: (v) => xTickLabels[Math.round(v / 5)]
        },
        grid: { display: true, drawOnChartArea: false, drawTicks: true, tickLength: 8, color: AXIS, lineWidth: 2 },
        border: { display: true, color: AXIS, width: 2 },
        title: {
          display: true,
          text: axisTitles[0],
          color: '#000',
          font: { family: SERIF, size: 30, weight: 'bold' },
          padding: { top: 0, bottom: 4 }
        }
      },
      y: {
        type: 'linear',
        min: 0, max: 0.012,
        afterFit(scale) { scale.width = 161; scale.paddingTop = 0; scale.paddingBottom = 0; },
        ticks: {
          stepSize: 0.002,
          padding: 18,
          color: '#000',
          font: { family: SERIF, size: 30 },
          callback: (v) => yTickLabels[Math.round(v / 0.002)]
        },
        grid: { display: true, drawOnChartArea: false, drawTicks: true, tickLength: 8, color: AXIS, lineWidth: 2 },
        border: { display: true, color: AXIS, width: 2 },
        title: {
          display: true,
          text: axisTitles[1],
          color: '#000',
          font: { family: SERIF, size: 30, weight: 'bold' },
          padding: { top: 10, bottom: 0 }
        }
      }
    }
  },
  plugins: [framePlugin, boxLegendPlugin]
});
</script>
</body>
</html>
